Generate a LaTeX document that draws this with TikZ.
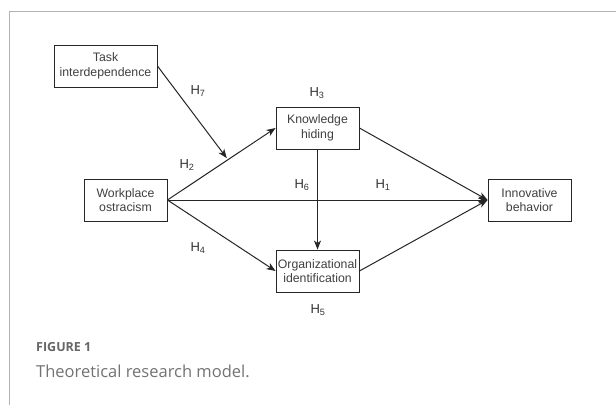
\documentclass[tikz,border=0pt]{standalone}
\usepackage{fontspec}
\setmainfont{Liberation Sans}
\newfontfamily\capfont{Open Sans}
\usetikzlibrary{arrows.meta}
\begin{document}
\begin{tikzpicture}[x=1pt,y=-1pt,
  box/.style={draw=black!85, line width=0.9pt, fill=white, minimum width=83pt, minimum height=42pt, inner sep=0pt, align=center, font=\fontsize{12.3}{14.5}\selectfont, text=black!75},
  conn/.style={draw=black!85, line width=1pt, -{Stealth[length=9pt,width=7pt,inset=2.5pt]}},
  hlab/.style={font=\fontsize{13}{15}\selectfont, text=black!80, inner sep=0pt},
  capA/.style={font=\capfont\bfseries\fontsize{12.5}{15}\selectfont, text=black!60, anchor=base west, inner sep=0pt},
  capB/.style={font=\capfont\fontsize{16.5}{20}\selectfont, text=black!55, anchor=base west, inner sep=0pt}]
\useasboundingbox (0,0) rectangle (616,405);
\fill[white] (0,0) rectangle (616,405);
\draw[black!30, line width=1pt] (616,11.5) -- (9.5,11.5) -- (9.5,405);
\node[box, minimum width=103pt] (task) at (105.5,66) {Task\\interdependence};
\node[box] (wo) at (125.5,200) {Workplace\\ostracism};
\node[box] (kh) at (317.5,128) {Knowledge\\hiding};
\node[box] (oi) at (317.5,271) {Organizational\\identification};
\node[box] (ib) at (529.5,200) {Innovative\\behavior};
\draw[conn] (wo.east) -- coordinate[pos=0.56] (mod) (kh.west);
\draw[conn] (wo.east) -- (ib.west);
\draw[conn] (wo.east) -- (oi.west);
\draw[conn] (kh.east) -- (ib.west);
\draw[conn] (oi.east) -- (ib.west);
\draw[conn] (kh.south) -- (oi.north);
\draw[conn, shorten >=2pt] (task.east) -- (mod);
\node[hlab] (h7) at (198,91) {H\textsubscript{7}};
\node[hlab] (h3) at (317,93) {H\textsubscript{3}};
\node[hlab] (h2) at (187,165) {H\textsubscript{2}};
\node[hlab] (h6) at (302,185) {H\textsubscript{6}};
\node[hlab] (h1) at (383,185) {H\textsubscript{1}};
\node[hlab] (h4) at (198,248) {H\textsubscript{4}};
\node[hlab] (h5) at (318,310) {H\textsubscript{5}};
\node[capA] (fig) at (36,351) {FIGURE 1};
\node[capB] (cap) at (36,377) {Theoretical research model.};
\end{tikzpicture}
\end{document}
